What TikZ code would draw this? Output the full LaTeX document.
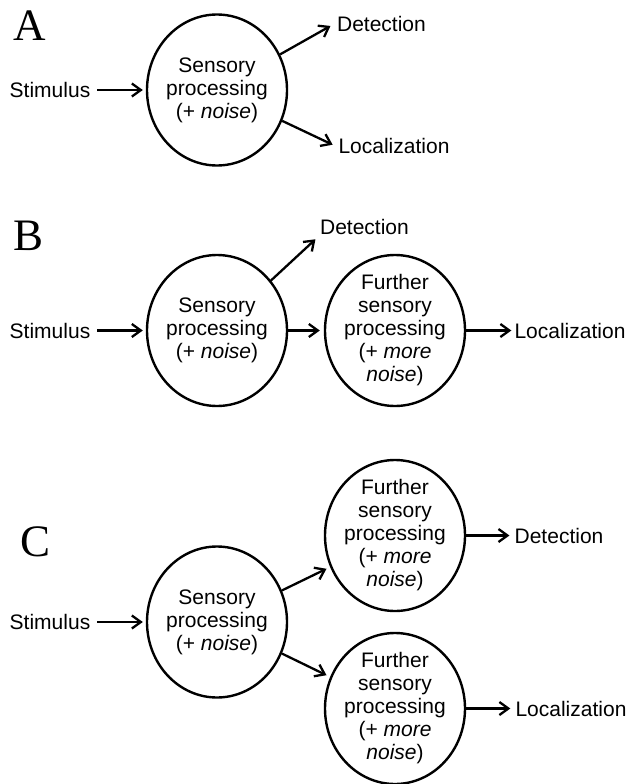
\documentclass[tikz,border=0pt]{standalone}
\usepackage{fontspec}
\setmainfont{Liberation Sans}
\newfontfamily\panelfont{Liberation Serif}
\usetikzlibrary{arrows.meta,shapes.geometric}

\begin{document}
\begin{tikzpicture}[x=1pt,y=-1pt,
  stage/.style={ellipse, draw, line width=2.4pt, minimum width=140pt,
    minimum height=151pt, inner sep=-6pt, align=center,
    font=\fontsize{21}{23}\selectfont},
  lbl/.style={inner sep=3pt, font=\fontsize{21}{23}\selectfont},
  panel/.style={anchor=base west, inner sep=0pt,
    font=\panelfont\fontsize{45}{45}\selectfont},
  flow/.style={line width=2.3pt, -{Straight Barb[length=9pt,width=13pt]}},
]
\useasboundingbox (0,0) rectangle (628,784);

% ---------- panel A ----------
\node[panel] (labA) at (13,41) {A};
\node[lbl] (StimA) at (50,90) {Stimulus};
\node[stage] (A) at (217,90) {Sensory\\processing\\(+ \textit{noise})};
\node[lbl] (DetA) at (381.5,24) {Detection};
\node[lbl] (LocA) at (394,146) {Localization};
\draw[flow, shorten <=4pt, shorten >=3pt] (StimA) -- (A);
\draw[flow, shorten >=4pt] (A) -- (DetA.west);
\draw[flow, shorten >=3pt] (A) -- (LocA.west);

% ---------- panel B ----------
\node[panel] (labB) at (13,250) {B};
\node[lbl] (StimB) at (50,330.5) {Stimulus};
\node[stage] (B1) at (217,330.5) {Sensory\\processing\\(+ \textit{noise})};
\node[stage] (B2) at (395,330.5) {Further\\sensory\\processing\\(+ \textit{more}\\\textit{noise})};
\node[lbl] (DetB) at (364.5,227) {Detection};
\node[lbl] (LocB) at (570,330.5) {Localization};
\draw[flow, shorten <=4pt, shorten >=3pt] (StimB) -- (B1);
\draw[flow, shorten >=4pt] (B1) -- (B2);
\draw[flow, shorten >=2pt] (B1) -- (DetB.south west);
\draw[flow] (B2) -- (LocB);

% ---------- panel C ----------
\node[panel] (labC) at (20,556) {C};
\node[lbl] (StimC) at (50,622) {Stimulus};
\node[stage] (C1) at (217,622) {Sensory\\processing\\(+ \textit{noise})};
\node[stage] (C2) at (395,535.5) {Further\\sensory\\processing\\(+ \textit{more}\\\textit{noise})};
\node[stage] (C3) at (395,708.5) {Further\\sensory\\processing\\(+ \textit{more}\\\textit{noise})};
\node[lbl] (DetC) at (559,535.5) {Detection};
\node[lbl] (LocC) at (571,708.5) {Localization};
\draw[flow, shorten <=4pt, shorten >=3pt] (StimC) -- (C1);
\draw[flow, shorten >=4pt] (C1) -- (C2);
\draw[flow, shorten >=4pt] (C1) -- (C3);
\draw[flow, shorten >=2pt] (C2) -- (DetC);
\draw[flow, shorten >=2pt] (C3) -- (LocC);
\end{tikzpicture}
\end{document}
